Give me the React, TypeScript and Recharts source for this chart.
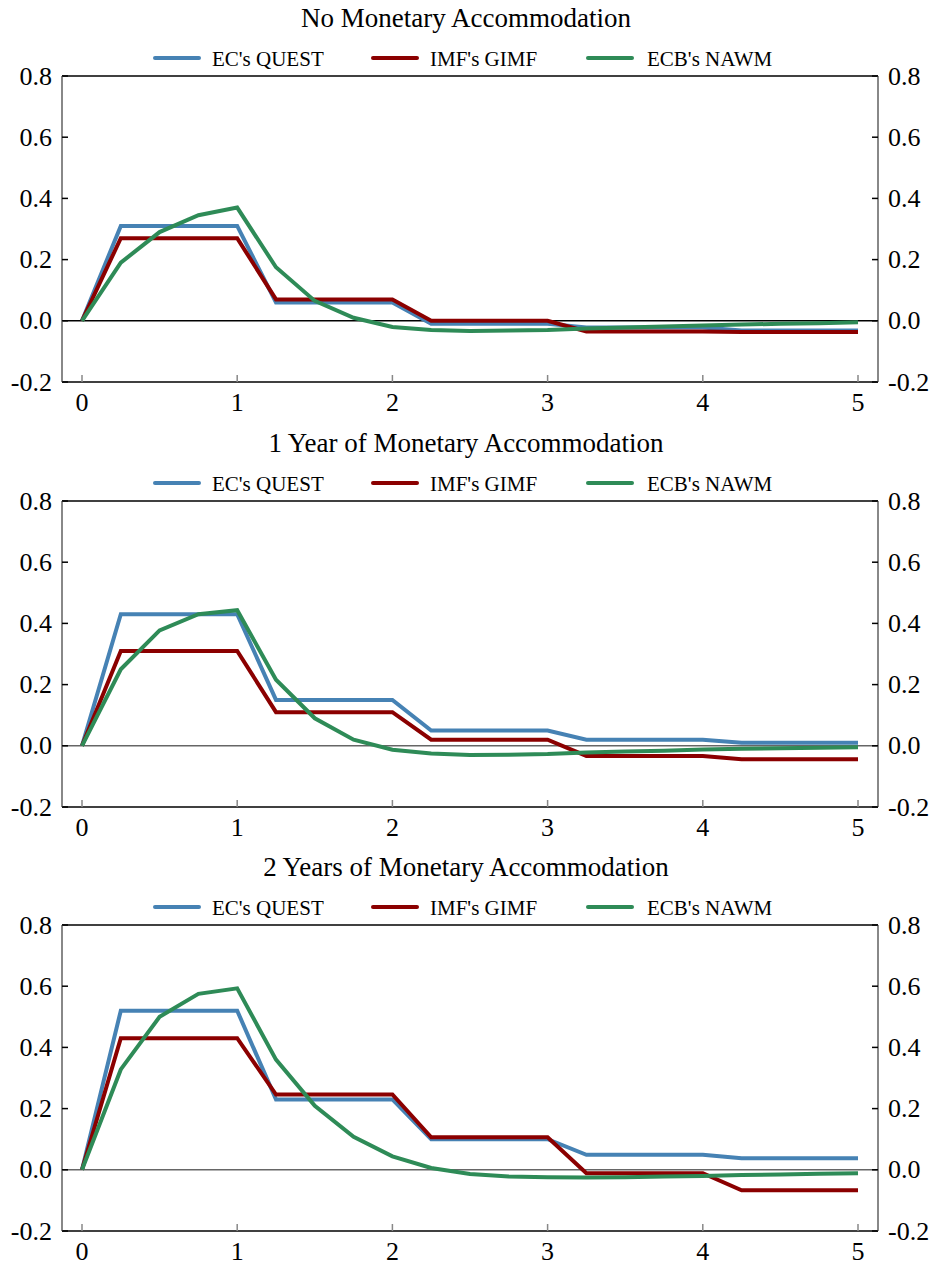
import { LineChart, Line, XAxis, YAxis, ReferenceLine } from 'recharts';

const quarters = [0, 0.25, 0.5, 0.75, 1, 1.25, 1.5, 1.75, 2, 2.25, 2.5, 2.75, 3, 3.25, 3.5, 3.75, 4, 4.25, 4.5, 4.75, 5];
const xTicks = [0, 1, 2, 3, 4, 5];
const yTicks = [-0.2, 0, 0.2, 0.4, 0.6, 0.8];

const titles = ['No Monetary Accommodation', '1 Year of Monetary Accommodation', '2 Years of Monetary Accommodation'];
const seriesNames = ["EC's QUEST", "IMF's GIMF", "ECB's NAWM"];
const seriesColors = ['#4682B4', '#8B0000', '#2E8B57'];

// No accommodation
const quest1 = [0, 0.31, 0.31, 0.31, 0.31, 0.06, 0.06, 0.06, 0.06, -0.01, -0.01, -0.01, -0.01, -0.022, -0.022, -0.022, -0.022, -0.032, -0.032, -0.032, -0.032];
const gimf1 = [0, 0.27, 0.27, 0.27, 0.27, 0.07, 0.07, 0.07, 0.07, 0, 0, 0, 0, -0.035, -0.035, -0.035, -0.035, -0.037, -0.037, -0.037, -0.037];
const nawm1 = [0, 0.19, 0.29, 0.345, 0.37, 0.175, 0.065, 0.01, -0.02, -0.03, -0.033, -0.032, -0.03, -0.025, -0.022, -0.019, -0.015, -0.012, -0.01, -0.008, -0.005];

// 1 year
const quest2 = [0, 0.43, 0.43, 0.43, 0.43, 0.15, 0.15, 0.15, 0.15, 0.05, 0.05, 0.05, 0.05, 0.02, 0.02, 0.02, 0.02, 0.01, 0.01, 0.01, 0.01];
const gimf2 = [0, 0.31, 0.31, 0.31, 0.31, 0.11, 0.11, 0.11, 0.11, 0.02, 0.02, 0.02, 0.02, -0.033, -0.033, -0.033, -0.033, -0.044, -0.044, -0.044, -0.044];
const nawm2 = [0, 0.25, 0.377, 0.43, 0.443, 0.216, 0.09, 0.02, -0.013, -0.025, -0.03, -0.029, -0.027, -0.022, -0.019, -0.016, -0.012, -0.01, -0.008, -0.006, -0.005];

// 2 years
const quest3 = [0, 0.52, 0.52, 0.52, 0.52, 0.23, 0.23, 0.23, 0.23, 0.1, 0.1, 0.1, 0.1, 0.049, 0.049, 0.049, 0.049, 0.038, 0.038, 0.038, 0.038];
const gimf3 = [0, 0.43, 0.43, 0.43, 0.43, 0.246, 0.246, 0.246, 0.246, 0.106, 0.106, 0.106, 0.106, -0.011, -0.011, -0.011, -0.011, -0.067, -0.067, -0.067, -0.067];
const nawm3 = [0, 0.328, 0.5, 0.575, 0.593, 0.36, 0.209, 0.108, 0.044, 0.006, -0.014, -0.022, -0.024, -0.025, -0.024, -0.022, -0.02, -0.017, -0.015, -0.013, -0.011];

const panels = [
  [quest1, gimf1, nawm1],
  [quest2, gimf2, nawm2],
  [quest3, gimf3, nawm3],
];
const panelTops = [0, 425, 849];
const zeroColors = ['#000', '#666', '#666'];

const FONT = '"Liberation Serif", "Times New Roman", serif';
const W = 938;
const H = 424;

function XTick({ x, y, payload }: any) {
  return (
    <g>
      <line x1={x} x2={x} y1={y} y2={y - 7} stroke="#888" strokeWidth={1.5} />
      <text x={x} y={y + 20} textAnchor="middle" dominantBaseline="central" fontSize={26} fontFamily={FONT} fill="#000">
        {payload.value}
      </text>
    </g>
  );
}

function LeftTick({ x, y, payload }: any) {
  return (
    <g>
      <line x1={x} x2={x + 6} y1={y} y2={y} stroke="#000" strokeWidth={1.5} />
      <text x={x - 10} y={y} textAnchor="end" dominantBaseline="central" fontSize={26} fontFamily={FONT} fill="#000">
        {payload.value.toFixed(1)}
      </text>
    </g>
  );
}

function RightTick({ x, y, payload }: any) {
  return (
    <g>
      <line x1={x} x2={x - 6} y1={y} y2={y} stroke="#000" strokeWidth={1.5} />
      <text x={x + 10} y={y} textAnchor="start" dominantBaseline="central" fontSize={26} fontFamily={FONT} fill="#000">
        {payload.value.toFixed(1)}
      </text>
    </g>
  );
}

const legendLineX = [155, 373, 588];
const legendTextX = [212, 430, 647];

function Panel({ idx }: { idx: number }) {
  const [q, g, n] = panels[idx];
  const data = quarters.map((x, i) => ({ x, quest: q[i], gimf: g[i], nawm: n[i] }));
  return (
    <div style={{ position: 'absolute', left: 0, top: panelTops[idx], width: W, height: H }}>
      <LineChart width={W} height={H} data={data} margin={{ top: 76, right: 0, bottom: 12, left: 2 }}>
        <XAxis
          dataKey="x"
          type="number"
          domain={[0, 5]}
          ticks={xTicks}
          interval={0}
          padding={{ left: 20, right: 20 }}
          height={30}
          tickSize={0}
          tickMargin={0}
          tickLine={false}
          axisLine={{ stroke: '#000', strokeWidth: 1.5 }}
          tick={(p: any) => <XTick {...p} />}
        />
        <YAxis
          yAxisId="left"
          domain={[-0.2, 0.8]}
          ticks={yTicks}
          interval={0}
          width={60}
          allowDataOverflow
          tickSize={0}
          tickMargin={0}
          tickLine={false}
          axisLine={{ stroke: '#888', strokeWidth: 2 }}
          tick={(p: any) => <LeftTick {...p} />}
        />
        <YAxis
          yAxisId="right"
          orientation="right"
          domain={[-0.2, 0.8]}
          ticks={yTicks}
          interval={0}
          width={60}
          allowDataOverflow
          tickSize={0}
          tickMargin={0}
          tickLine={false}
          axisLine={{ stroke: '#888', strokeWidth: 2 }}
          tick={(p: any) => <RightTick {...p} />}
        />
        <ReferenceLine yAxisId="left" y={0.8} stroke="#000" strokeWidth={1.5} />
        <ReferenceLine yAxisId="left" y={0} stroke={zeroColors[idx]} strokeWidth={1.5} />
        <Line yAxisId="left" type="linear" dataKey="quest" stroke={seriesColors[0]} strokeWidth={4} dot={false} isAnimationActive={false} />
        <Line yAxisId="left" type="linear" dataKey="gimf" stroke={seriesColors[1]} strokeWidth={4} dot={false} isAnimationActive={false} />
        <Line yAxisId="left" type="linear" dataKey="nawm" stroke={seriesColors[2]} strokeWidth={4} dot={false} isAnimationActive={false} />
      </LineChart>
      <svg width={W} height={72} style={{ position: 'absolute', left: 0, top: 0 }}>
        <text x={466} y={27} textAnchor="middle" fontSize={27} fontFamily={FONT} fill="#000">
          {titles[idx]}
        </text>
        {seriesNames.map((name, i) => (
          <g key={name}>
            <line x1={legendLineX[i]} x2={legendLineX[i] + 44} y1={58} y2={58} stroke={seriesColors[i]} strokeWidth={4} strokeLinecap="round" />
            <text x={legendTextX[i]} y={66} fontSize={21} fontFamily={FONT} fill="#000">
              {name}
            </text>
          </g>
        ))}
      </svg>
    </div>
  );
}

export default function App() {
  return (
    <div style={{ position: 'absolute', left: 0, top: 0, width: W, height: 1267, background: '#fff' }}>
      <Panel idx={0} />
      <Panel idx={1} />
      <Panel idx={2} />
    </div>
  );
}
